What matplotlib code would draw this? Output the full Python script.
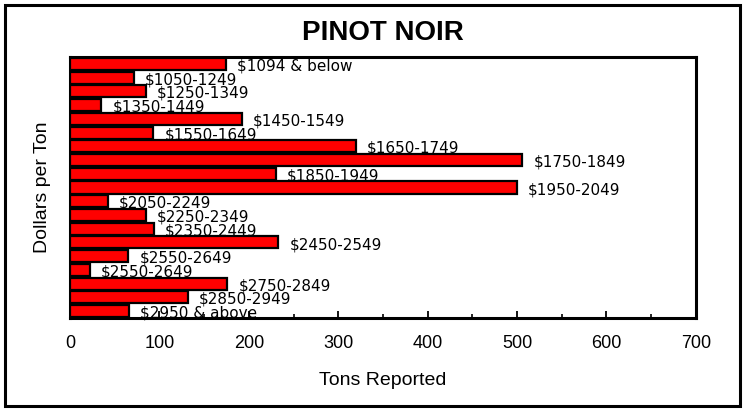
import matplotlib
matplotlib.use("Agg")
import matplotlib.pyplot as plt
from matplotlib.patches import Rectangle
from matplotlib.ticker import MultipleLocator

# price bands (top to bottom) and tons reported
BANDS = ["$1094 & below", "$1050-1249", "$1250-1349", "$1350-1449", "$1450-1549",
         "$1550-1649", "$1650-1749", "$1750-1849", "$1850-1949", "$1950-2049",
         "$2050-2249", "$2250-2349", "$2350-2449", "$2450-2549", "$2550-2649",
         "$2550-2649", "$2750-2849", "$2850-2949", "$2950 & above"]
TONS = [174, 71, 85, 35, 192, 93, 320, 506, 230, 500,
        42, 85, 94, 233, 65, 22, 176, 132, 66]
XTICKS = [0, 100, 200, 300, 400, 500, 600, 700]

plt.rcParams["font.family"] = ["Liberation Sans", "DejaVu Sans"]

fig = plt.figure(figsize=(7.45, 4.11), dpi=100)
ax = fig.add_axes([0.094, 0.2263, 0.840, 0.635])

ys = list(range(len(BANDS)))
ax.barh(ys, TONS, height=0.88, color="#ff0000", edgecolor="black",
        linewidth=1.6, zorder=3)
for y, v, lab in zip(ys, TONS, BANDS):
    ax.annotate(lab, (v, y), xytext=(8, -1.5), textcoords="offset points",
                ha="left", va="center", fontsize=11, zorder=2,
                family=["DejaVu Sans"])

ax.set_ylim(len(BANDS) - 0.5, -0.5)
ax.set_xlim(0, 700)
ax.set_xticks(XTICKS)
ax.xaxis.set_minor_locator(MultipleLocator(50))
ax.set_yticks([])
ax.tick_params(axis="x", which="major", direction="in", length=5, width=1.3,
               pad=12, labelsize=13)
ax.tick_params(axis="x", which="minor", direction="in", length=3, width=1.2)
for s in ax.spines.values():
    s.set_linewidth(2.2)

ax.set_xlabel("Tons Reported", fontsize=14, labelpad=15)
ax.set_ylabel("Dollars per Ton", fontsize=14, labelpad=14)
ax.set_title("PINOT NOIR", fontsize=20, fontweight="bold", pad=12)

# outer border around the whole chart
fig.patches.append(Rectangle((5 / 745, 5 / 411), 735 / 745, 401 / 411,
                             transform=fig.transFigure, fill=False,
                             edgecolor="black", linewidth=2.2))

fig.savefig("out.png", dpi=100)
